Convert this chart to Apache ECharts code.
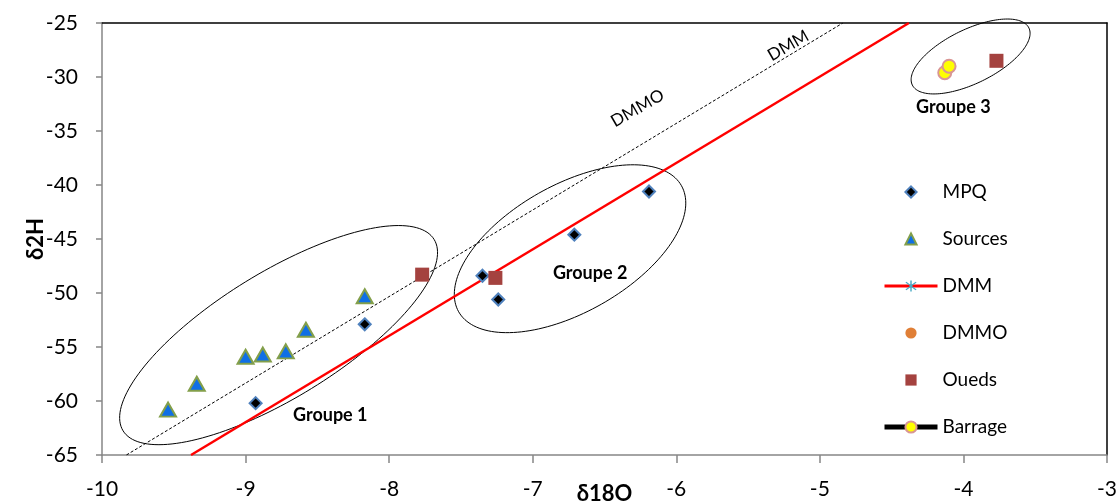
<!DOCTYPE html>
<html><head><meta charset="utf-8">
<script src="https://cdn.jsdelivr.net/npm/echarts@6/dist/echarts.min.js"></script>
<style>html,body{margin:0;padding:0;background:#fff}#c{width:1117px;height:502px}</style>
</head><body><div id="c"></div>
<script>
// ---- data ----
const mpqX = [-8.93, -8.17, -7.35, -7.24, -6.71, -6.19];
const mpqY = [-60.2, -52.9, -48.4, -50.6, -44.6, -40.6];
const sourcesX = [-9.54, -9.34, -9.00, -8.88, -8.72, -8.58, -8.17];
const sourcesY = [-60.8, -58.4, -55.9, -55.7, -55.4, -53.4, -50.3];
const dmmX = [-9.38, -4.38];
const dmmY = [-65, -25];
const dmmoX = [-9.83, -4.84];
const dmmoY = [-65, -25];
const ouedsX = [-7.77, -7.26, -3.77];
const ouedsY = [-48.3, -48.6, -28.5];
const barrageX = [-4.13, -4.10];
const barrageY = [-29.6, -29.0];
const xTicks = [-10, -9, -8, -7, -6, -5, -4, -3];
const yTicks = [-65, -60, -55, -50, -45, -40, -35, -30, -25];
const groupNames = ['Groupe 1', 'Groupe 2', 'Groupe 3'];
const groupCenterX = [-8.77, -6.74, -3.95];
const groupCenterY = [-53.9, -45.9, -28.1];
const groupLabelX = [-8.41, -6.60, -4.07];
const groupLabelY = [-61.3, -48.2, -32.8];
const lineLabelNames = ['DMMO', 'DMM'];
const lineLabelX = [-6.27, -5.22];
const lineLabelY = [-32.9, -27.1];

// ---- annotation shapes (pixels / degrees) ----
const ellipseShape = [
  { a: 182.6, b: 62.7, angle: 31.6 },
  { a: 128, b: 63.7, angle: 29.5 },
  { a: 64.9, b: 27, angle: 26.1 }
];
const FONT = 'Lato';
const zip = (xs, ys) => xs.map((x, i) => [x, ys[i]]);
const asterisk = 'path://M-7.7,-6.3L6.3,7.7L7.7,6.3L-6.3,-7.7Z M-6.3,7.7L7.7,-6.3L6.3,-7.7L-7.7,6.3Z M-1,-10L-1,10L1,10L1,-10Z';

const chart = echarts.init(document.getElementById('c'), null, { renderer: 'canvas' });
const axisTxt = { fontFamily: FONT, fontSize: 21, color: '#000' };
chart.setOption({
  animation: false,
  backgroundColor: '#fff',
  grid: { left: 102, right: 10, top: 23, bottom: 47, containLabel: false, outerBoundsMode: 'none' },
  legend: {
    orient: 'vertical', left: 877, top: 177, itemWidth: 53, itemHeight: 14, itemGap: 27,
    selectedMode: false,
    textStyle: { fontFamily: FONT, fontSize: 19, color: '#000', lineHeight: 20 },
    data: [
      { name: 'MPQ' },
      { name: 'Sources' },
      { name: 'DMM', lineStyle: { width: 3 } },
      { name: 'DMMO', lineStyle: { width: 0 }, itemStyle: { color: '#E07F36', borderWidth: 0 } },
      { name: 'Oueds' },
      { name: 'Barrage', lineStyle: { width: 5 } }
    ]
  },
  xAxis: [{
    type: 'value', min: xTicks[0], max: xTicks[xTicks.length - 1], interval: 1,
    name: 'δ18O', nameLocation: 'middle', nameGap: 28, nameMoveOverlap: false,
    nameTextStyle: { fontFamily: FONT, fontSize: 22, fontWeight: 'bold', color: '#000', verticalAlign: 'top' },
    axisLine: { onZero: false, lineStyle: { color: '#868686', width: 1.5 } },
    axisTick: { show: true, length: 8, lineStyle: { color: '#868686', width: 1.5 } },
    axisLabel: Object.assign({ margin: 24 }, axisTxt),
    splitLine: { show: false }
  }, {
    type: 'value', position: 'top', min: xTicks[0], max: xTicks[xTicks.length - 1],
    axisLine: { onZero: false, lineStyle: { color: '#000', width: 1.5 } },
    axisTick: { show: false }, axisLabel: { show: false }, splitLine: { show: false }
  }],
  yAxis: [{
    type: 'value', min: yTicks[0], max: yTicks[yTicks.length - 1], interval: 5,
    name: 'δ2H', nameLocation: 'middle', nameGap: 55, nameMoveOverlap: false,
    nameTextStyle: { fontFamily: FONT, fontSize: 22, fontWeight: 'bold', color: '#000' },
    axisLine: { show: true, onZero: false, lineStyle: { color: '#868686', width: 1.5 } },
    axisTick: { show: true, length: 6, lineStyle: { color: '#868686', width: 1.5 } },
    axisLabel: Object.assign({ margin: 24 }, axisTxt),
    splitLine: { show: false }
  }, {
    type: 'value', position: 'right', min: yTicks[0], max: yTicks[yTicks.length - 1],
    axisLine: { show: true, onZero: false, lineStyle: { color: '#000', width: 1.5 } },
    axisTick: { show: false }, axisLabel: { show: false }, splitLine: { show: false }
  }],
  series: [
    {
      type: 'custom', name: 'ellipses', silent: true, clip: false, z: 1,
      data: zip(groupCenterX, groupCenterY),
      renderItem: (params, api) => {
        const c = api.coord([api.value(0), api.value(1)]);
        const g = ellipseShape[params.dataIndex];
        const th = g.angle * Math.PI / 180;
        const pts = [];
        for (let i = 0; i <= 160; i++) {
          const t = i / 160 * Math.PI * 2;
          const u = g.a * Math.cos(t), v = g.b * Math.sin(t);
          pts.push([c[0] + u * Math.cos(th) - v * Math.sin(th), c[1] - (u * Math.sin(th) + v * Math.cos(th))]);
        }
        return { type: 'polygon', shape: { points: pts }, style: { fill: 'none', stroke: '#000', lineWidth: 1 } };
      }
    },
    {
      type: 'custom', name: 'groupLabels', silent: true, clip: false, z: 5,
      data: zip(groupLabelX, groupLabelY),
      renderItem: (params, api) => {
        const c = api.coord([api.value(0), api.value(1)]);
        return { type: 'text', x: c[0], y: c[1], style: { text: groupNames[params.dataIndex], font: 'bold 18px ' + FONT, fill: '#000', align: 'center', verticalAlign: 'middle' } };
      }
    },
    {
      type: 'custom', name: 'lineLabels', silent: true, clip: false, z: 5,
      data: zip(lineLabelX, lineLabelY),
      renderItem: (params, api) => {
        const c = api.coord([api.value(0), api.value(1)]);
        return { type: 'text', x: c[0], y: c[1], rotation: 30 * Math.PI / 180, style: { text: lineLabelNames[params.dataIndex], font: '17px ' + FONT, fill: '#000', align: 'center', verticalAlign: 'middle' } };
      }
    },
    {
      name: 'MPQ', type: 'line', data: zip(mpqX, mpqY), z: 3,
      symbol: 'diamond', symbolSize: 12, emphasis: { disabled: true },
      lineStyle: { width: 0 },
      itemStyle: { color: '#000', borderColor: '#4F81BD', borderWidth: 2 }
    },
    {
      name: 'Sources', type: 'line', data: zip(sourcesX, sourcesY), z: 3,
      symbol: 'triangle', symbolSize: [16, 14], emphasis: { disabled: true },
      lineStyle: { width: 0 },
      itemStyle: { color: '#0F6FE6', borderColor: '#839F4A', borderWidth: 2 }
    },
    {
      name: 'DMM', type: 'line', data: zip(dmmX, dmmY), z: 3,
      symbol: asterisk, showSymbol: false, emphasis: { disabled: true },
      lineStyle: { color: '#FF0000', width: 2.5 },
      itemStyle: { color: '#4BACC6' }
    },
    {
      name: 'DMMO', type: 'line', data: zip(dmmoX, dmmoY), z: 2,
      symbol: 'none', emphasis: { disabled: true },
      lineStyle: { color: '#000', width: 1, type: [3, 2] },
      itemStyle: { color: '#000' }
    },
    {
      name: 'Oueds', type: 'line', data: zip(ouedsX, ouedsY), z: 3,
      symbol: 'rect', symbolSize: 14, emphasis: { disabled: true },
      lineStyle: { width: 0 },
      itemStyle: { color: '#A4423F' }
    },
    {
      name: 'Barrage', type: 'line', data: zip(barrageX, barrageY), z: 3,
      symbol: 'circle', symbolSize: 13, emphasis: { disabled: true },
      lineStyle: { color: '#000', width: 4 },
      itemStyle: { color: '#FFFF00', borderColor: '#D99694', borderWidth: 2 }
    }
  ]
});
</script>
</body></html>
